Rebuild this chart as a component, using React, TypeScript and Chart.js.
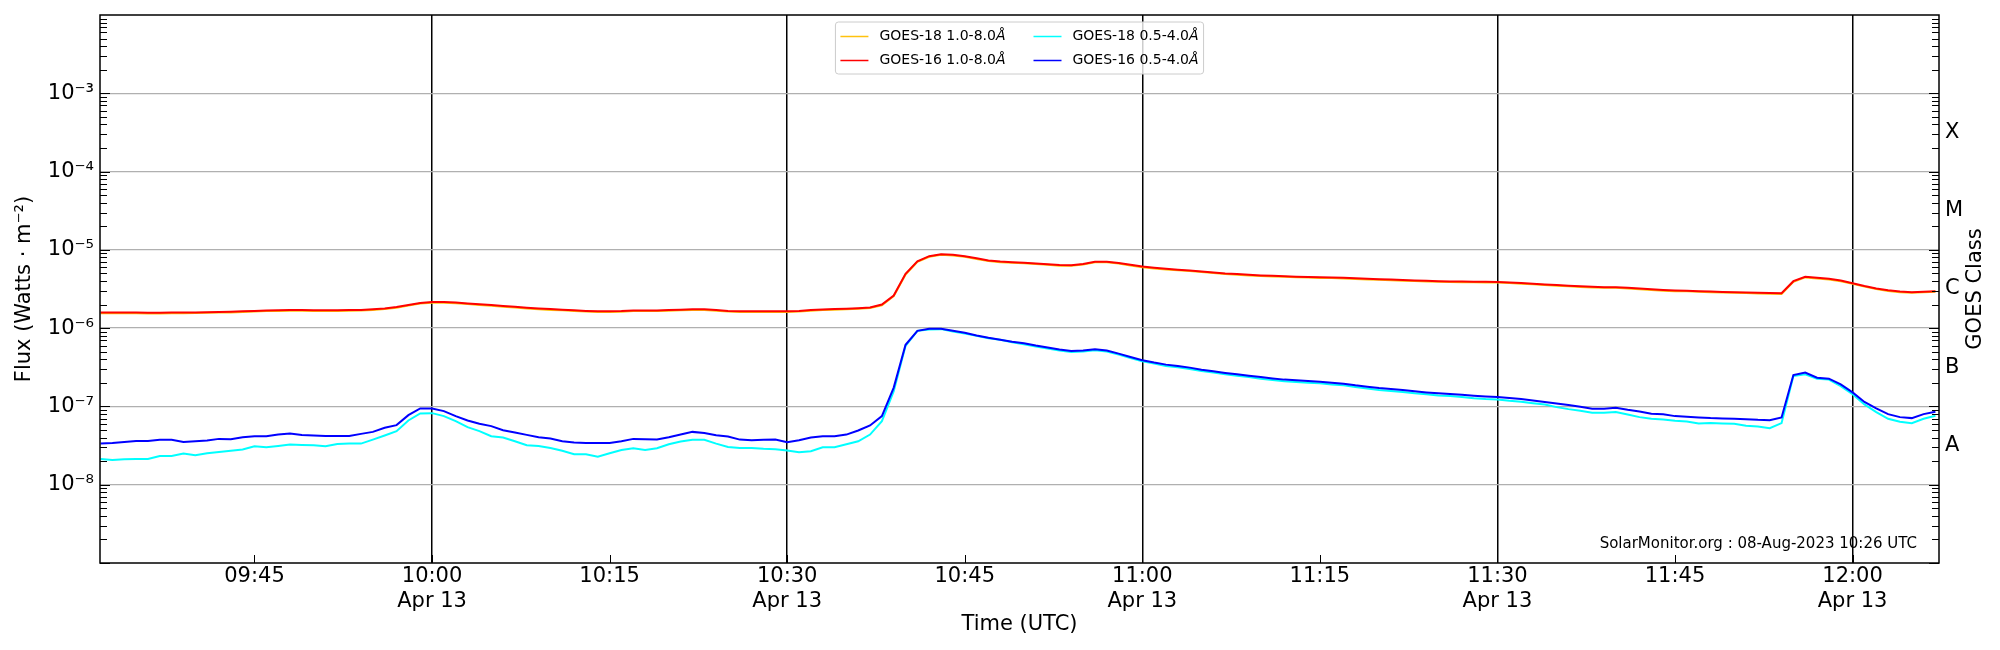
import { useEffect, useRef } from 'react';
import { Chart, registerables } from 'chart.js';

Chart.register(...registerables);

// one sample per minute, first sample at 09:32 UTC (minutes counted from 10:00)
const startMinute = -28;

// 1.0-8.0 Å channels, in 1e-6 W m^-2
const goes18Long = [
  1.55, 1.55, 1.55, 1.55, 1.54, 1.54, 1.55, 1.55, 1.56, 1.57, 1.58,
  1.59, 1.61, 1.63, 1.65, 1.66, 1.67, 1.67, 1.66, 1.66, 1.66, 1.67,
  1.68, 1.71, 1.75, 1.82, 1.94, 2.06, 2.11, 2.11, 2.08, 2.03, 1.98,
  1.93, 1.88, 1.83, 1.78, 1.74, 1.71, 1.69, 1.66, 1.63, 1.61, 1.61,
  1.62, 1.65, 1.65, 1.65, 1.67, 1.69, 1.71, 1.71, 1.67, 1.63, 1.61,
  1.61, 1.61, 1.61, 1.61, 1.63, 1.67, 1.70, 1.72, 1.74, 1.77, 1.81,
  1.96, 2.56, 4.85, 7.03, 8.15, 8.64, 8.47, 8.15, 7.66, 7.18, 6.97,
  6.83, 6.72, 6.58, 6.43, 6.28, 6.25, 6.48, 6.92, 6.92, 6.68, 6.33,
  6.01, 5.79, 5.63, 5.48, 5.35, 5.20, 5.06, 4.91, 4.81, 4.71, 4.63,
  4.58, 4.52, 4.47, 4.42, 4.38, 4.36, 4.32, 4.25, 4.19, 4.14, 4.09,
  4.04, 4.00, 3.95, 3.91, 3.88, 3.86, 3.85, 3.84, 3.82, 3.76, 3.70,
  3.63, 3.55, 3.49, 3.42, 3.36, 3.31, 3.28, 3.27, 3.21, 3.14, 3.07,
  3.01, 2.97, 2.95, 2.91, 2.88, 2.85, 2.83, 2.81, 2.78, 2.76, 2.74,
  3.91, 4.45, 4.32, 4.19, 3.98, 3.68, 3.39, 3.15, 2.99, 2.88, 2.83, 2.87, 2.91,
];
const goes16Long = [
  1.58, 1.58, 1.58, 1.58, 1.57, 1.57, 1.58, 1.58, 1.59, 1.60, 1.61,
  1.62, 1.64, 1.66, 1.68, 1.69, 1.70, 1.70, 1.69, 1.69, 1.69, 1.70,
  1.71, 1.74, 1.78, 1.86, 1.98, 2.10, 2.15, 2.15, 2.12, 2.07, 2.02,
  1.97, 1.92, 1.87, 1.82, 1.78, 1.75, 1.72, 1.69, 1.66, 1.64, 1.64,
  1.65, 1.68, 1.68, 1.68, 1.70, 1.72, 1.74, 1.74, 1.70, 1.66, 1.64,
  1.64, 1.64, 1.64, 1.64, 1.66, 1.70, 1.73, 1.75, 1.77, 1.80, 1.84,
  2.00, 2.61, 4.94, 7.16, 8.30, 8.80, 8.63, 8.30, 7.80, 7.31, 7.10,
  6.96, 6.85, 6.70, 6.55, 6.40, 6.37, 6.60, 7.05, 7.05, 6.80, 6.45,
  6.12, 5.90, 5.73, 5.58, 5.45, 5.30, 5.15, 5.00, 4.90, 4.80, 4.72,
  4.66, 4.60, 4.55, 4.50, 4.46, 4.44, 4.40, 4.33, 4.27, 4.22, 4.17,
  4.12, 4.07, 4.02, 3.98, 3.95, 3.93, 3.92, 3.91, 3.89, 3.83, 3.77,
  3.70, 3.62, 3.55, 3.48, 3.42, 3.37, 3.34, 3.33, 3.27, 3.20, 3.13,
  3.07, 3.03, 3.00, 2.96, 2.93, 2.90, 2.88, 2.86, 2.83, 2.81, 2.79,
  3.98, 4.53, 4.40, 4.27, 4.05, 3.75, 3.45, 3.21, 3.05, 2.93, 2.88, 2.92, 2.96,
];

// 0.5-4.0 Å channels, in 1e-8 W m^-2
const goes18Short = [
  2.13, 2.07, 2.11, 2.13, 2.13, 2.33, 2.33, 2.50, 2.38, 2.52, 2.62,
  2.71, 2.81, 3.10, 3.01, 3.13, 3.26, 3.22, 3.19, 3.10, 3.32, 3.35,
  3.35, 3.77, 4.25, 4.83, 6.62, 8.13, 8.21, 7.52, 6.49, 5.43, 4.83,
  4.16, 4.00, 3.59, 3.19, 3.13, 2.95, 2.71, 2.45, 2.45, 2.28, 2.52,
  2.78, 2.92, 2.78, 2.92, 3.29, 3.56, 3.74, 3.74, 3.35, 3.04, 2.95,
  2.95, 2.87, 2.84, 2.73, 2.60, 2.68, 3.01, 3.01, 3.29, 3.59, 4.37,
  6.49, 15.7, 59.4, 92.4, 96.1, 97.1, 90.6, 85.4, 79.7, 74.4, 70.9,
  66.2, 62.4, 58.2, 54.9, 51.7, 49.7, 50.2, 52.2, 50.2, 45.9, 41.6,
  37.7, 35.2, 32.9, 31.6, 30.1, 28.4, 27.1, 25.7, 24.7, 23.8, 22.6,
  21.8, 20.9, 20.5, 20.1, 19.7, 19.1, 18.6, 17.7, 16.9, 16.2, 15.7,
  15.3, 14.7, 14.3, 13.8, 13.6, 13.2, 12.7, 12.4, 12.3, 11.8, 11.5,
  11.0, 10.6, 9.80, 9.24, 8.80, 8.29, 8.29, 8.46, 7.90, 7.30, 6.95,
  6.81, 6.55, 6.43, 6.06, 6.12, 6.06, 6.00, 5.65, 5.54, 5.27, 6.12,
  24.5, 25.7, 22.6, 22.0, 18.2, 14.3, 10.6, 8.46, 6.95, 6.36, 6.12, 6.95, 7.59,
];
const goes16Short = [
  3.35, 3.42, 3.52, 3.63, 3.63, 3.74, 3.74, 3.52, 3.59, 3.66, 3.85,
  3.81, 4.04, 4.16, 4.16, 4.37, 4.50, 4.33, 4.25, 4.20, 4.20, 4.20,
  4.46, 4.73, 5.33, 5.77, 7.74, 9.43, 9.43, 8.71, 7.52, 6.62, 6.00,
  5.60, 4.97, 4.64, 4.33, 4.04, 3.89, 3.59, 3.45, 3.42, 3.42, 3.42,
  3.59, 3.85, 3.81, 3.77, 4.04, 4.37, 4.73, 4.59, 4.29, 4.12, 3.77,
  3.70, 3.74, 3.77, 3.49, 3.70, 4.00, 4.16, 4.16, 4.37, 4.92, 5.71,
  7.52, 17.4, 61.2, 92.4, 98.0, 98.0, 92.4, 87.1, 80.5, 75.2, 70.9,
  66.8, 64.3, 60.0, 56.5, 53.3, 51.2, 51.7, 53.8, 51.7, 47.3, 42.9,
  38.9, 36.3, 34.2, 32.9, 31.3, 29.5, 28.1, 26.8, 25.7, 24.7, 23.8,
  22.8, 22.0, 21.6, 21.1, 20.7, 20.1, 19.5, 18.6, 17.9, 17.2, 16.7,
  16.2, 15.6, 15.1, 14.7, 14.4, 14.1, 13.7, 13.4, 13.2, 12.8, 12.4,
  11.9, 11.4, 10.9, 10.4, 9.90, 9.33, 9.33, 9.61, 9.06, 8.63, 8.05,
  7.97, 7.52, 7.37, 7.22, 7.09, 7.02, 6.95, 6.88, 6.75, 6.68, 7.22,
  25.2, 27.1, 23.3, 22.6, 19.1, 15.1, 11.4, 9.43, 7.97, 7.30, 7.09, 7.97, 8.54,
];

const minuteTicks = [-15, 0, 15, 30, 45, 60, 75, 90, 105, 120];
const decadeTicks = [1e-8, 1e-7, 1e-6, 1e-5, 1e-4, 1e-3];
const classLevels = [3.162e-8, 3.162e-7, 3.162e-6, 3.162e-5, 3.162e-4];
const classLabels = ['A', 'B', 'C', 'M', 'X'];
const dayLabel = 'Apr 13';
const stamp = 'SolarMonitor.org : 08-Aug-2023 10:26 UTC';

const FONT = "'DejaVu Sans', sans-serif";
const SUP: Record<string, string> = {
  '-': '\u207B', '0': '\u2070', '1': '\u00B9', '2': '\u00B2', '3': '\u00B3',
  '4': '\u2074', '5': '\u2075', '6': '\u2076', '7': '\u2077', '8': '\u2078', '9': '\u2079',
};

const toPoints = (vals: number[], unit: number) =>
  vals.map((v, i) => ({ x: startMinute + i, y: v * unit }));

const clock = (m: number) => {
  const t = 600 + m;
  return String(Math.floor(t / 60)).padStart(2, '0') + ':' + String(t % 60).padStart(2, '0');
};

const overlay = {
  id: 'overlay',
  afterDraw(chart: any) {
    const { ctx, chartArea: a, scales } = chart;
    const ys = scales.y, xs = scales.x;
    const line = (x1: number, y1: number, x2: number, y2: number) => {
      ctx.beginPath(); ctx.moveTo(x1, y1); ctx.lineTo(x2, y2); ctx.stroke();
    };
    ctx.save();
    ctx.strokeStyle = '#000';
    ctx.lineWidth = 1;
    // inward minor/major ticks on both flux axes
    for (let e = -9; e <= -3; e++) {
      for (let k = 1; k <= 9; k++) {
        const py = Math.round(ys.getPixelForValue(k * 10 ** e)) + 0.5;
        const len = k === 1 ? 10 : 7;
        line(a.left, py, a.left + len, py);
        line(a.right - len, py, a.right, py);
      }
    }
    minuteTicks.forEach((m) => {
      const px = Math.round(xs.getPixelForValue(m)) + 0.5;
      line(px, a.bottom, px, a.bottom - 8);
    });
    ctx.lineWidth = 1.5;
    ctx.strokeRect(a.left, a.top, a.right - a.left, a.bottom - a.top);

    ctx.fillStyle = '#000';
    ctx.font = `15px ${FONT}`;
    ctx.textAlign = 'right';
    ctx.textBaseline = 'middle';
    ctx.fillText(stamp, a.right - 22, a.bottom - 19);

    // legend, two columns, upper centre
    const items = chart.data.datasets.map((d: any) => ({ label: d.label as string, color: d.borderColor as string }));
    const fs = 14;
    const normal = `${fs}px ${FONT}`;
    const italic = `italic ${fs}px ${FONT}`;
    const width = (s: string) => {
      ctx.font = normal; const w1 = ctx.measureText(s).width;
      ctx.font = italic; return w1 + ctx.measureText('\u00C5').width;
    };
    const cols = [[items[0], items[1]], [items[2], items[3]]];
    const pad = 5, handle = 28, gap = 11, colGap = 28, rowH = 24;
    const colW = cols.map((c) => Math.max(...c.map((it: any) => width(it.label))));
    const boxW = pad * 2 + cols.length * (handle + gap) + colW[0] + colW[1] + colGap;
    const boxH = 52;
    const bx = (a.left + a.right) / 2 - boxW / 2;
    const by = a.top + 7;
    ctx.beginPath();
    ctx.roundRect(bx, by, boxW, boxH, 3);
    ctx.fillStyle = 'rgba(255,255,255,0.8)';
    ctx.fill();
    ctx.strokeStyle = '#cccccc';
    ctx.lineWidth = 1;
    ctx.stroke();
    let cx = bx + pad;
    cols.forEach((col, ci) => {
      col.forEach((it: any, ri: number) => {
        const cy = by + 14.5 + ri * rowH;
        ctx.strokeStyle = it.color;
        ctx.lineWidth = 1.5;
        line(cx, cy, cx + handle, cy);
        ctx.fillStyle = '#000';
        ctx.textAlign = 'left';
        ctx.textBaseline = 'middle';
        ctx.font = normal;
        ctx.fillText(it.label, cx + handle + gap, cy);
        const w = ctx.measureText(it.label).width;
        ctx.font = italic;
        ctx.fillText('\u00C5', cx + handle + gap + w, cy);
      });
      cx += handle + gap + colW[ci] + colGap;
    });

    // right-hand axis title, reading upwards
    ctx.translate(a.right + 37, (a.top + a.bottom) / 2);
    ctx.rotate(-Math.PI / 2);
    ctx.fillStyle = '#000';
    ctx.font = `21px ${FONT}`;
    ctx.textAlign = 'center';
    ctx.textBaseline = 'middle';
    ctx.fillText('GOES Class', 0, 0);
    ctx.restore();
  },
};

export default function App() {
  const ref = useRef<HTMLCanvasElement>(null);

  useEffect(() => {
    document.body.style.margin = '0';
    if (!ref.current) return;
    const tickFont = { family: FONT, size: 21 };
    const chart = new Chart(ref.current, {
      type: 'line',
      data: {
        datasets: [
          { label: 'GOES-18 1.0-8.0', data: toPoints(goes18Long, 1e-6), borderColor: '#ffc20e', order: 2 },
          { label: 'GOES-16 1.0-8.0', data: toPoints(goes16Long, 1e-6), borderColor: '#ff0000', order: 1 },
          { label: 'GOES-18 0.5-4.0', data: toPoints(goes18Short, 1e-8), borderColor: '#00ffff', order: 4 },
          { label: 'GOES-16 0.5-4.0', data: toPoints(goes16Short, 1e-8), borderColor: '#0000ff', order: 3 },
        ].map((d) => ({ ...d, borderWidth: 2, pointRadius: 0, tension: 0, fill: false })),
      },
      options: {
        responsive: true,
        maintainAspectRatio: false,
        animation: false,
        layout: { padding: { top: 15, left: 0, right: 0, bottom: 0 } },
        plugins: { legend: { display: false }, tooltip: { enabled: false } },
        scales: {
          x: {
            type: 'linear',
            min: -28.05,
            max: 127.3,
            afterBuildTicks: (s: any) => { s.ticks = minuteTicks.map((v) => ({ value: v })); },
            afterFit: (s: any) => { s.height = 87; s.paddingLeft = 0; s.paddingRight = 0; },
            grid: {
              color: (c: any) => (c.tick && c.tick.value % 30 === 0 ? '#000000' : 'rgba(0,0,0,0)'),
              lineWidth: 1.5,
              drawTicks: false,
            },
            border: { display: false },
            ticks: {
              color: '#000',
              font: tickFont,
              padding: 1,
              autoSkip: false,
              maxRotation: 0,
              callback: (v: any) => (Number(v) % 30 === 0 ? [clock(Number(v)), dayLabel] : clock(Number(v))),
            },
            title: {
              display: true, text: 'Time (UTC)', color: '#000', font: tickFont,
              padding: { top: 0, bottom: 13 },
            },
          },
          y: {
            type: 'logarithmic',
            position: 'left',
            min: 1e-9,
            max: 1e-2,
            afterBuildTicks: (s: any) => { s.ticks = decadeTicks.map((v) => ({ value: v })); },
            afterFit: (s: any) => { s.width = 100; s.paddingTop = 0; s.paddingBottom = 0; },
            grid: { color: '#b0b0b0', lineWidth: 1.3, drawTicks: false },
            border: { display: false },
            ticks: {
              color: '#000',
              font: tickFont,
              padding: 6,
              callback: (v: any) =>
                '10' + String(Math.round(Math.log10(Number(v)))).split('').map((c) => SUP[c]).join(''),
            },
            title: {
              display: true, text: 'Flux (Watts \u00B7 m\u207B\u00B2)', color: '#000', font: tickFont,
              padding: { top: 12, bottom: 0 },
            },
          },
          y2: {
            type: 'logarithmic',
            position: 'right',
            min: 1e-9,
            max: 1e-2,
            afterBuildTicks: (s: any) => { s.ticks = classLevels.map((v) => ({ value: v })); },
            afterFit: (s: any) => { s.width = 61; s.paddingTop = 0; s.paddingBottom = 0; },
            grid: { display: false, drawTicks: false },
            border: { display: false },
            ticks: {
              color: '#000',
              font: tickFont,
              padding: 6,
              callback: (_v: any, i: number) => classLabels[i],
            },
          },
        },
      },
      plugins: [overlay],
    });
    return () => chart.destroy();
  }, []);

  return (
    <div style={{ width: 2000, height: 650, position: 'relative', background: '#fff' }}>
      <canvas ref={ref} />
    </div>
  );
}
